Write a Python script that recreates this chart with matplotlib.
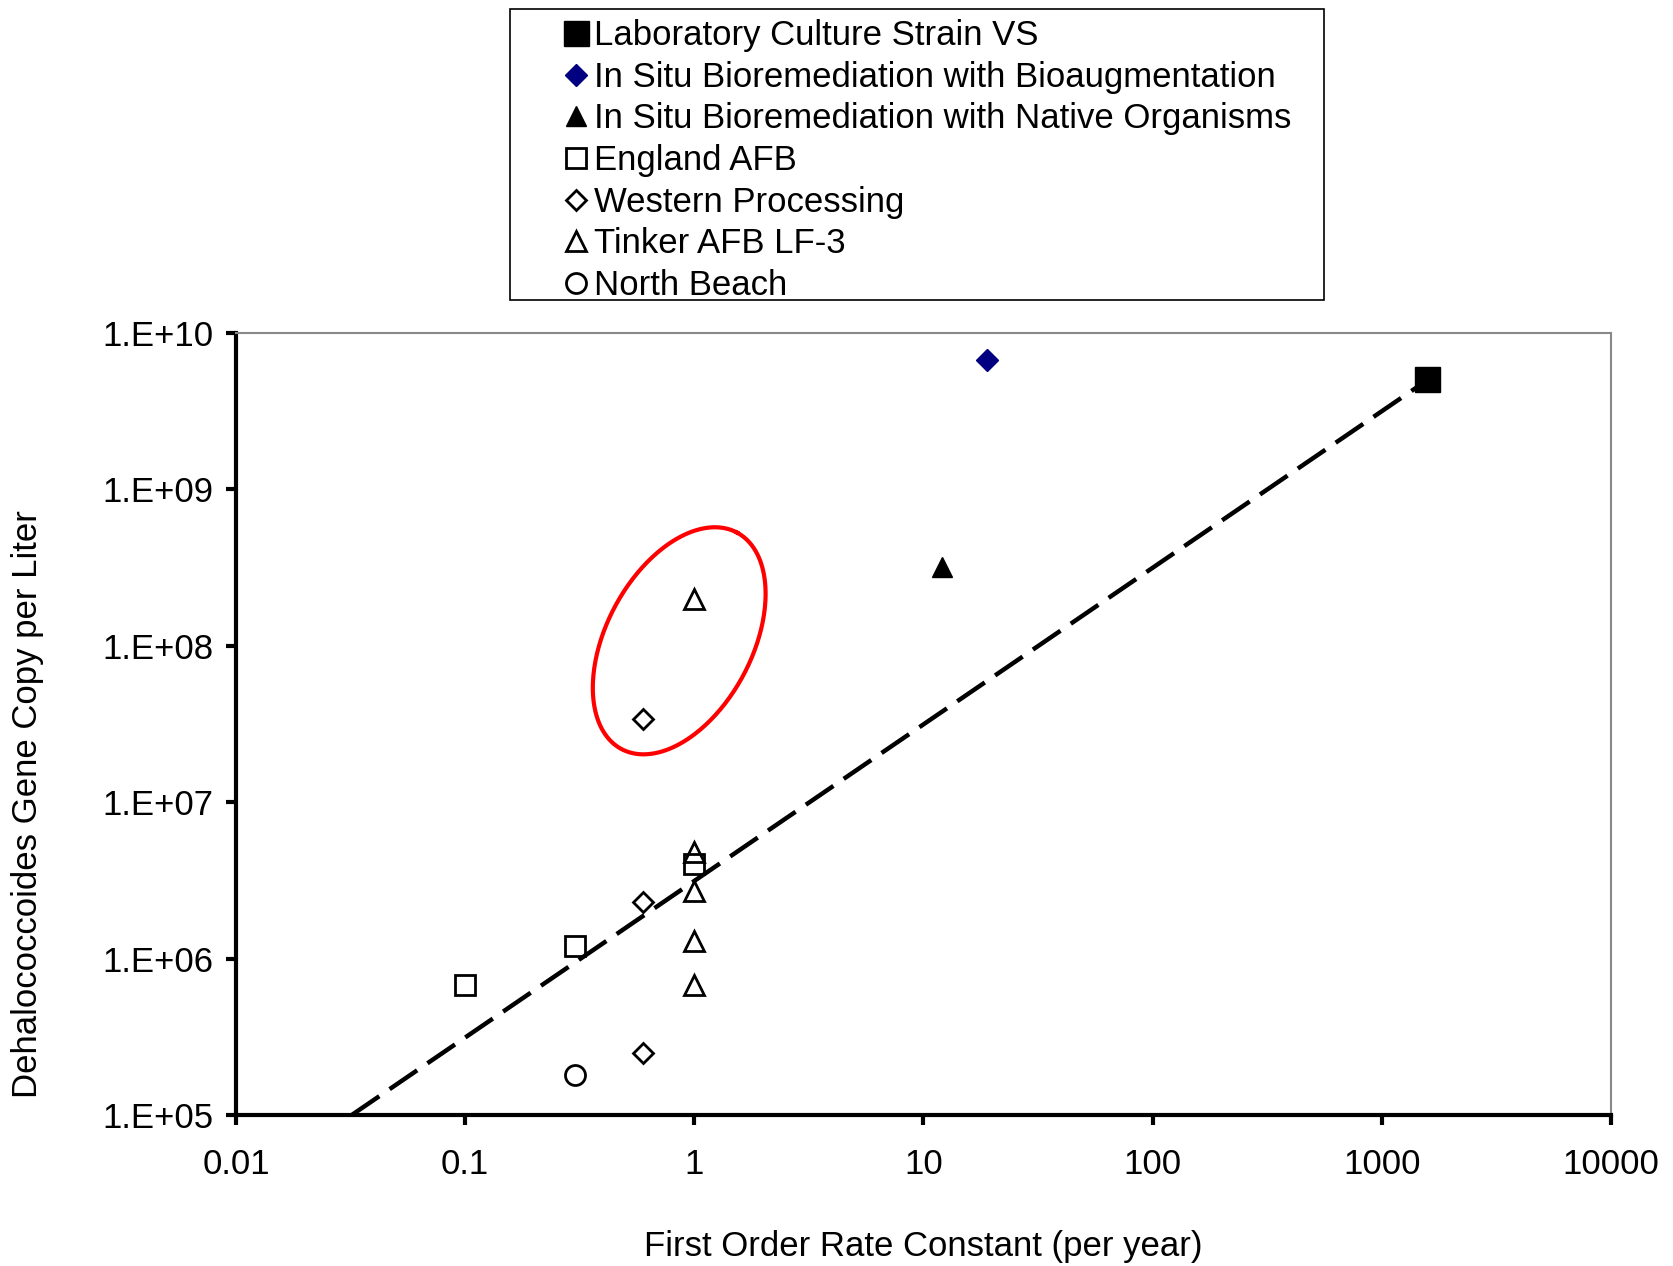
import matplotlib
matplotlib.use('Agg')
import matplotlib.pyplot as plt
from matplotlib.patches import Rectangle
import numpy as np

plt.rcParams['font.family'] = ['Liberation Sans', 'DejaVu Sans']
plt.rcParams['lines.scale_dashes'] = False

# data
lab_x = [1580]
lab_y = [5.1e9]
bioaug_x = [19]
bioaug_y = [6.7e9]
native_x = [12]
native_y = [3.2e8]
england_x = [0.1, 0.3, 1.0]
england_y = [6.8e5, 1.2e6, 4.0e6]
western_x = [0.6, 0.6, 0.6]
western_y = [3.4e7, 2.3e6, 2.5e5]
tinker_x = [1, 1, 1, 1, 1]
tinker_y = [2.0e8, 4.8e6, 2.7e6, 1.3e6, 6.8e5]
north_x = [0.3]
north_y = [1.8e5]

trend_x = [0.032, 1580]
trend_y = [1.0e5, 5.0e9]

x_ticks = [0.01, 0.1, 1, 10, 100, 1000, 10000]
x_labels = ['0.01', '0.1', '1', '10', '100', '1000', '10000']
y_ticks = [1e5, 1e6, 1e7, 1e8, 1e9, 1e10]
y_labels = ['1.E+05', '1.E+06', '1.E+07', '1.E+08', '1.E+09', '1.E+10']

W, H = 1673, 1266
fig = plt.figure(figsize=(W / 100, H / 100), dpi=100)
ax = fig.add_axes([236 / W, 1 - 1115 / H, 1375 / W, 782 / H])
ax.set_xscale('log')
ax.set_yscale('log')
ax.set_xlim(0.01, 10000)
ax.set_ylim(1e5, 1e10)

ax.plot(trend_x, trend_y, color='black', lw=3.2, linestyle=(0, (24, 9)),
        dash_capstyle='butt', zorder=3)

ms_open = 14.4
mew = 2.0
h_lab, = ax.plot(lab_x, lab_y, 's', color='black', ms=18, ls='none', zorder=4)
h_bio, = ax.plot(bioaug_x, bioaug_y, 'D', color='#000080', ms=11, ls='none', zorder=4)
h_nat, = ax.plot(native_x, native_y, '^', color='black', ms=14.4, ls='none', zorder=4)
h_eng, = ax.plot(england_x, england_y, 's', mfc='none', mec='black', mew=mew, ms=ms_open, ls='none', zorder=4)
h_wes, = ax.plot(western_x, western_y, 'D', mfc='none', mec='black', mew=mew, ms=10.5, ls='none', zorder=4)
h_tin, = ax.plot(tinker_x, tinker_y, '^', mfc='none', mec='black', mew=mew, ms=ms_open, ls='none', zorder=4)
h_nor, = ax.plot(north_x, north_y, 'o', mfc='none', mec='black', mew=mew, ms=ms_open, ls='none', zorder=4)

# red ellipse annotation, built in pixel space and mapped to log units
dec_x = 1375 / 6
dec_y = 782 / 5
cx, cy = -0.066, 8.032
a, b, th = 122.7, 72.8, np.radians(61.9)
t = np.linspace(0, 2 * np.pi, 300)
px = a * np.cos(t) * np.cos(th) - b * np.sin(t) * np.sin(th)
py = a * np.cos(t) * np.sin(th) + b * np.sin(t) * np.cos(th)
ax.plot(10 ** (cx + px / dec_x), 10 ** (cy + py / dec_y), color='red', lw=3.0, zorder=5)

ax.xaxis.set_major_locator(matplotlib.ticker.FixedLocator(x_ticks))
ax.yaxis.set_major_locator(matplotlib.ticker.FixedLocator(y_ticks))
ax.xaxis.set_minor_locator(matplotlib.ticker.NullLocator())
ax.yaxis.set_minor_locator(matplotlib.ticker.NullLocator())
ax.set_xticklabels(x_labels)
ax.set_yticklabels(y_labels)
ax.tick_params(axis='both', direction='out', length=7, width=3, labelsize=25)
ax.tick_params(axis='x', pad=17)
ax.tick_params(axis='y', pad=9)

for s in ['left', 'bottom']:
    ax.spines[s].set_linewidth(3)
    ax.spines[s].set_color('black')
for s in ['top', 'right']:
    ax.spines[s].set_linewidth(1.5)
    ax.spines[s].set_color('#888888')

ax.set_xlabel('First Order Rate Constant (per year)', fontsize=25, labelpad=35)
fig.text(28 / W, 1 - 804 / H, 'Dehalococcoides Gene Copy per Liter', rotation=90,
         ha='center', va='center', fontsize=25)

# legend box
fig.patches.append(Rectangle((510 / W, 1 - 300 / H), 814 / W, 291.5 / H,
                             transform=fig.transFigure, fill=False,
                             edgecolor='black', lw=1.2))
handles = [h_lab, h_bio, h_nat, h_eng, h_wes, h_tin, h_nor]
names = ['Laboratory Culture Strain VS',
         'In Situ Bioremediation with Bioaugmentation',
         'In Situ Bioremediation with Native Organisms',
         'England AFB', 'Western Processing', 'Tinker AFB LF-3', 'North Beach']
fig.legend(handles, names, loc='upper left', bbox_to_anchor=(559 / W, 1 - 19 / H),
           frameon=False, fontsize=25, handlelength=1.0, handletextpad=0.0,
           borderpad=0, borderaxespad=0, labelspacing=0.25, numpoints=1)

fig.savefig('out.png', dpi=100)
